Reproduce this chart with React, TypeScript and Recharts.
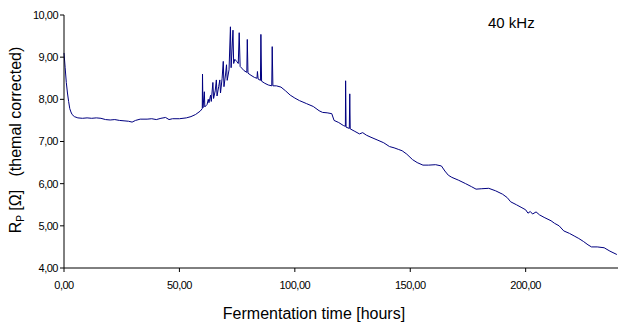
import React from "react";
import { LineChart, Line, XAxis, YAxis, Label } from "recharts";

// Fermentation time (hours) and Rp readings
const hours = [
  0, 0.5, 1, 1.5, 2, 2.5, 3, 3.5, 4.5, 6, 8, 10, 12, 14, 16, 18, 20, 22, 24, 26, 28, 29.5, 31, 33, 36, 38, 40, 42,
  44, 45.5, 47, 50, 53, 55, 57, 59, 59.9, 60, 60.2, 60.8, 61, 62, 62.5, 62.8, 63.5, 63.8, 64.5, 64.8, 65.5, 66,
  66.3, 67, 67.5, 67.8, 68.5, 69, 69.3, 70, 70.4, 70.7, 71.5, 72.1, 72.4, 73.2, 73.5, 74, 74.8, 75.5, 75.9, 76.3,
  77, 78, 79.2, 79.4, 79.7, 81, 82.5, 83.6, 83.8, 84.1, 85.1, 85.3, 85.6, 87, 88.5, 90, 90.2, 90.5, 92, 94, 96, 98,
  100, 102, 105, 108, 110.5, 112, 114, 116, 117, 119, 121, 121.9, 122, 122.2, 123.6, 123.8, 124, 126, 128, 129.4,
  131, 133, 136, 138.5, 141, 143, 145, 146.5, 148.5, 151, 153, 155.5, 158, 161, 163.5, 165, 166.5, 168, 171, 174,
  176.5, 178.5, 181, 184, 187, 190, 192, 193.5, 196, 198, 200, 201, 202, 203, 204.5, 206, 208, 211, 212.5, 214.5,
  216.5, 219, 221, 223, 225, 227, 228.5, 231, 234, 236.5, 239.5,
];

const rp = [
  9.1, 8.75, 8.4, 8.15, 7.95, 7.78, 7.7, 7.64, 7.59, 7.56, 7.55, 7.56, 7.55, 7.56, 7.55, 7.52, 7.51, 7.52, 7.5,
  7.49, 7.48, 7.46, 7.5, 7.53, 7.53, 7.54, 7.52, 7.55, 7.57, 7.52, 7.54, 7.54, 7.56, 7.59, 7.64, 7.72, 7.78, 8.6,
  7.8, 8.18, 7.82, 7.88, 8.0, 7.92, 8.1, 7.95, 8.4, 8.02, 8.2, 8.46, 8.08, 8.3, 8.46, 8.15, 8.5, 8.9, 8.3, 8.6,
  8.82, 8.45, 8.7, 9.72, 8.75, 9.64, 8.85, 8.95, 8.9, 8.85, 9.58, 8.78, 8.74, 8.68, 8.64, 9.42, 8.62, 8.57, 8.52,
  8.5, 8.66, 8.48, 8.45, 9.54, 8.43, 8.38, 8.34, 8.32, 9.25, 8.32, 8.32, 8.29, 8.2, 8.1, 8.03, 7.97, 7.9, 7.83,
  7.73, 7.69, 7.68, 7.66, 7.5, 7.45, 7.38, 7.36, 8.44, 7.34, 7.31, 8.13, 7.3, 7.24, 7.18, 7.21, 7.15, 7.1, 7.03,
  6.97, 6.88, 6.85, 6.81, 6.78, 6.7, 6.57, 6.5, 6.44, 6.44, 6.45, 6.42, 6.3, 6.2, 6.15, 6.08, 6.0, 5.93, 5.87,
  5.88, 5.89, 5.83, 5.75, 5.67, 5.57, 5.5, 5.44, 5.38, 5.3, 5.34, 5.28, 5.33, 5.26, 5.2, 5.12, 5.06, 5.0, 4.88,
  4.82, 4.76, 4.7, 4.63, 4.55, 4.5, 4.5, 4.48, 4.4, 4.32,
];

const xTicks = [0, 50, 100, 150, 200];
const yTicks = [4, 5, 6, 7, 8, 9, 10];

const data = hours.map((h, i) => ({ h, rp: rp[i] }));

const FONT = "'Liberation Sans', Arial, sans-serif";
const fmt = (v: number) => v.toFixed(2).replace(".", ",");

const YTitle = () => {
  const cx = 21;
  const cy = 140;
  return (
    <text
      x={cx}
      y={cy}
      transform={`rotate(-90, ${cx}, ${cy})`}
      textAnchor="middle"
      fontFamily={FONT}
      fontSize={16}
      fill="#000"
    >
      R<tspan fontSize={10} dy={3}>P</tspan>
      <tspan dy={-3}>{"\u00a0[Ω]\u00a0\u00a0\u00a0(themal corrected)"}</tspan>
    </text>
  );
};

const XTitle = () => (
  <text x={314} y={319} textAnchor="middle" fontFamily={FONT} fontSize={16} fill="#000">
    Fermentation time [hours]
  </text>
);

export default function App() {
  return (
    <div style={{ position: "absolute", left: 0, top: 0, width: 618, height: 327, background: "#fff" }}>
      <LineChart width={618} height={327} data={data} margin={{ top: 15, right: 0, bottom: 0, left: 0 }}>
        <XAxis
          dataKey="h"
          type="number"
          domain={[0, 240]}
          ticks={xTicks}
          tickFormatter={fmt}
          height={59}
          tickSize={4}
          tickMargin={9}
          stroke="#000"
          tick={{ fontSize: 11, fontFamily: FONT, fill: "#000", letterSpacing: -0.5 }}
        >
          <Label content={<XTitle />} />
        </XAxis>
        <YAxis
          type="number"
          domain={[4, 10]}
          ticks={yTicks}
          tickFormatter={fmt}
          width={64}
          tickSize={4}
          tickMargin={2}
          stroke="#000"
          tick={{ fontSize: 11, fontFamily: FONT, fill: "#000", letterSpacing: -0.5 }}
        >
          <Label content={<YTitle />} />
        </YAxis>
        <Line
          dataKey="rp"
          type="linear"
          stroke="#000080"
          strokeWidth={1}
          dot={false}
          isAnimationActive={false}
        />
      </LineChart>
      <div
        style={{
          position: "absolute",
          left: 488,
          top: 14,
          fontFamily: FONT,
          fontSize: 15,
          color: "#000",
        }}
      >
        40 kHz
      </div>
    </div>
  );
}
